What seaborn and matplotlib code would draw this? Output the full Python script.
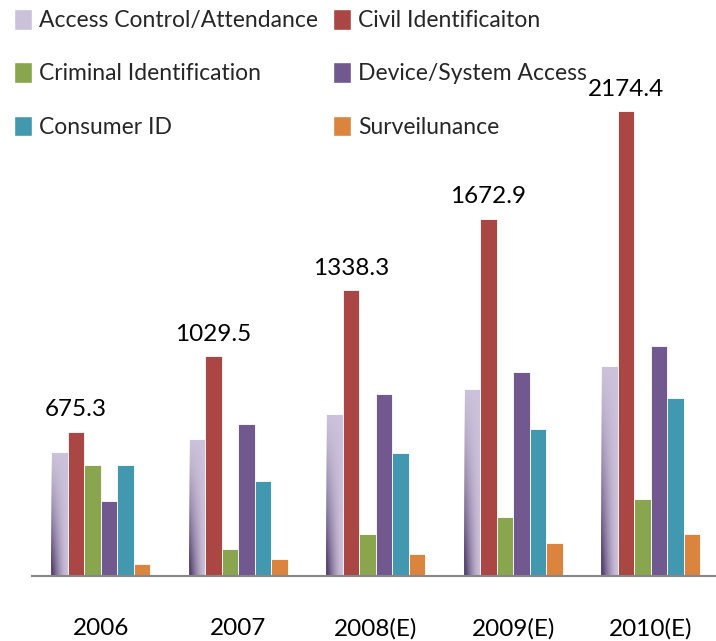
import numpy as np
import pandas as pd
import matplotlib
matplotlib.use("Agg")
import matplotlib.pyplot as plt
import seaborn as sns
from matplotlib.patches import Patch

# data
years = ["2006", "2007", "2008(E)", "2009(E)", "2010(E)"]
segments = ["Access Control/Attendance", "Civil Identificaiton", "Criminal Identification",
            "Device/System Access", "Consumer ID", "Surveilunance"]
access = [580, 641, 758, 875, 983]
civil = [675.3, 1029.5, 1338.3, 1672.9, 2174.4]
criminal = [518, 126, 195, 276, 360]
device = [352, 713, 850, 955, 1077]
consumer = [518, 446, 576, 686, 832]
surveillance = [58, 78, 103, 154, 195]
colors = ["#CCC1DA", "#AA4643", "#89A54E", "#71588F", "#4198AF", "#DB843D"]

values = [access, civil, criminal, device, consumer, surveillance]
df = pd.DataFrame([
    {"year": y, "segment": s, "value": v}
    for s, vals in zip(segments, values)
    for y, v in zip(years, vals)
])

sns.set_theme(style="white")
plt.rcParams["font.family"] = ["Lato", "DejaVu Sans"]
FS = 17.5

fig = plt.figure(figsize=(7.16, 6.41), dpi=100)
ax = fig.add_axes([32 / 716, 65 / 641, 687.5 / 716, 576 / 641])

sns.barplot(data=df, x="year", y="value", hue="segment", hue_order=segments,
            palette=colors, saturation=1, width=0.72, legend=False,
            edgecolor="white", linewidth=0.6, ax=ax)

# dark shading in the lower left of the access control bars
dark = np.array(matplotlib.colors.to_rgb("#4A3866"))
gx, gy = np.meshgrid(np.linspace(0, 1, 40), np.linspace(0, 1, 200))
alpha = np.clip((1 - gx) ** 1.6 * (1 - gy) ** 1.3 * 1.1, 0, 0.9)
grad = np.zeros((200, 40, 4))
grad[..., :3] = dark
grad[..., 3] = alpha
for bar in ax.containers[0]:
    x0, w, h = bar.get_x(), bar.get_width(), bar.get_height()
    im = ax.imshow(grad, extent=[x0, x0 + w, 0, h], origin="lower",
                   aspect="auto", zorder=bar.get_zorder() + 0.1)
    im.set_clip_path(bar)
ax.set_xlim(-0.5, 4.5)
ax.set_ylim(0, 576 * 4.68)

# civil identification values above its bars
for bar, v in zip(ax.containers[1], civil):
    ax.annotate(f"{v}", (bar.get_x() + bar.get_width() / 2, bar.get_height()),
                xytext=(0, 11), textcoords="offset points", ha="center",
                va="baseline", fontsize=FS, color="black")

for side in ["left", "top", "right"]:
    ax.spines[side].set_visible(False)
ax.spines["bottom"].set_color("#878787")
ax.spines["bottom"].set_linewidth(1.5)
ax.set_yticks([])
ax.set_xlabel("")
ax.set_ylabel("")
ax.set_xticks(range(len(years)))
ax.set_xticklabels(years, fontsize=FS)
ax.tick_params(axis="x", which="major", length=0, pad=30, colors="black")
ax.set_xticks(np.arange(-0.5, 4.5, 1), minor=True)
ax.tick_params(axis="x", which="minor", length=7, width=1.5, color="#878787",
               direction="out")

# legend in two columns, placed separately
leg_kw = dict(frameon=False, fontsize=16.5, loc="upper left",
              bbox_transform=fig.transFigure, handlelength=0.8,
              handleheight=1.0, handletextpad=0.3, labelspacing=1.36,
              borderaxespad=0, borderpad=0)
col1 = [Patch(facecolor=colors[i], label=segments[i]) for i in [0, 2, 4]]
col2 = [Patch(facecolor=colors[i], label=segments[i]) for i in [1, 3, 5]]
leg1 = ax.legend(handles=col1, bbox_to_anchor=(14 / 716, 1.0 - 9 / 641), **leg_kw)
ax.add_artist(leg1)
ax.legend(handles=col2, bbox_to_anchor=(333 / 716, 1.0 - 9 / 641), **leg_kw)

fig.savefig("out.png", dpi=100)
